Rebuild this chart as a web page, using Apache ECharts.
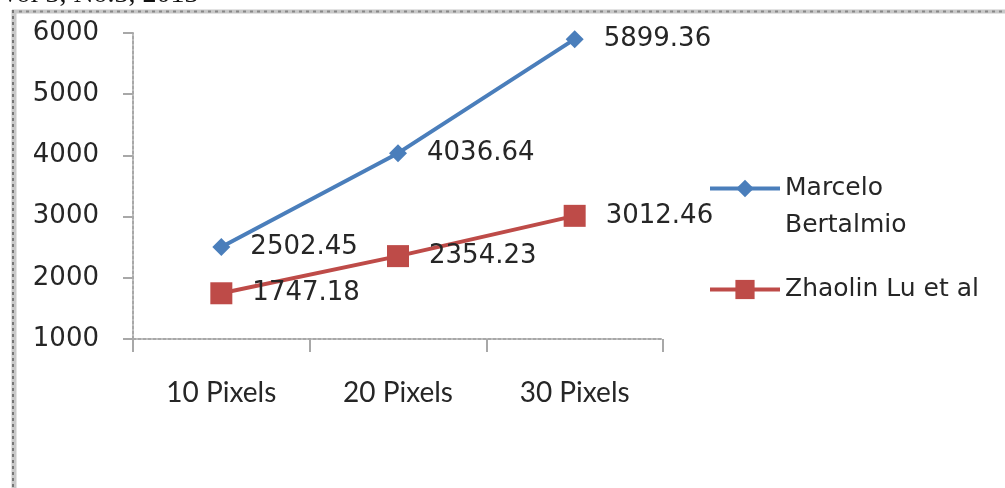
<!DOCTYPE html>
<html>
<head>
<meta charset="utf-8">
<script src="https://cdn.jsdelivr.net/npm/echarts@6/dist/echarts.min.js"></script>
<style>html,body{margin:0;padding:0;background:#fff}#c{width:1005px;height:488px}</style>
</head>
<body>
<div id="c"></div>
<script>
const categories = ['10 Pixels', '20 Pixels', '30 Pixels'];
const marcelo = [2502.45, 4036.64, 5899.36];
const zhaolin = [1747.18, 2354.23, 3012.46];
const yTicks = [1000, 2000, 3000, 4000, 5000, 6000];
const seriesNames = ['Marcelo Bertalmio', 'Zhaolin Lu et al'];
const headerText = 'Vol 3, No.3, 2013';

const chart = echarts.init(document.getElementById('c'));
const lblFont = 'DejaVu Sans';
const labelStyle = {show: true, position: 'right', distance: 20, fontFamily: lblFont, fontSize: 26, color: '#262626',
  formatter: p => p.value.toFixed(2)};
chart.setOption({
  animation: false,
  backgroundColor: '#fff',
  grid: {left: 133, right: 342, top: 33, bottom: 149, containLabel: false},
  xAxis: {
    type: 'category', data: categories, boundaryGap: true,
    axisLine: {lineStyle: {color: '#a8a8a8', width: 2, type: [3, 2]}},
    axisTick: {show: true, length: 13, alignWithLabel: false, lineStyle: {color: '#a8a8a8', width: 2}},
    axisLabel: {margin: 40, fontFamily: 'Liberation Sans Narrow, Lato', fontSize: 28, color: '#262626'},
    splitLine: {show: false}
  },
  yAxis: {
    type: 'value', min: yTicks[0], max: yTicks[yTicks.length - 1], interval: 1000,
    axisLine: {show: true, lineStyle: {color: '#a8a8a8', width: 2, type: [3, 2]}},
    axisTick: {show: true, inside: false, length: 10, lineStyle: {color: '#a8a8a8', width: 2}},
    axisLabel: {margin: 34, fontFamily: lblFont, fontSize: 26, color: '#262626', formatter: v => String(v)},
    splitLine: {show: false}
  },
  legend: [
    {data: [seriesNames[0]], orient: 'vertical', left: 703, top: 128, itemWidth: 70, itemHeight: 22, itemGap: 0,
      formatter: () => ' \nMarcelo\nBertalmio', lineStyle: {width: 4},
      textStyle: {fontFamily: lblFont, fontSize: 25, color: '#262626', lineHeight: 37}},
    {data: [seriesNames[1]], orient: 'vertical', left: 703, top: 266, itemWidth: 70, itemHeight: 24, itemGap: 0,
      lineStyle: {width: 4},
      textStyle: {fontFamily: lblFont, fontSize: 25, color: '#262626', lineHeight: 37}}
  ],
  series: [
    {name: seriesNames[0], type: 'line', data: marcelo, symbol: 'diamond', symbolSize: 18,
      lineStyle: {color: '#4a7ebb', width: 4}, itemStyle: {color: '#4a7ebb'}, label: labelStyle},
    {name: seriesNames[1], type: 'line', data: zhaolin, symbol: 'rect', symbolSize: 22,
      lineStyle: {color: '#be4b48', width: 4}, itemStyle: {color: '#be4b48'}, label: labelStyle}
  ],
  graphic: [
    {type: 'text', left: 0, top: -19, style: {text: headerText, font: '28px "Liberation Serif"', fill: '#111'}},
    {type: 'line', shape: {x1: 12, y1: 11.5, x2: 1005, y2: 11.5}, style: {stroke: '#c8c8c8', lineWidth: 4}},
    {type: 'line', shape: {x1: 12, y1: 11.5, x2: 1005, y2: 11.5}, style: {stroke: '#888', lineWidth: 2, lineDash: [3, 4]}},
    {type: 'line', shape: {x1: 14, y1: 10, x2: 14, y2: 488}, style: {stroke: '#c8c8c8', lineWidth: 5}},
    {type: 'line', shape: {x1: 13, y1: 10, x2: 13, y2: 488}, style: {stroke: '#777', lineWidth: 2, lineDash: [3, 3]}}
  ]
});
</script>
</body>
</html>
